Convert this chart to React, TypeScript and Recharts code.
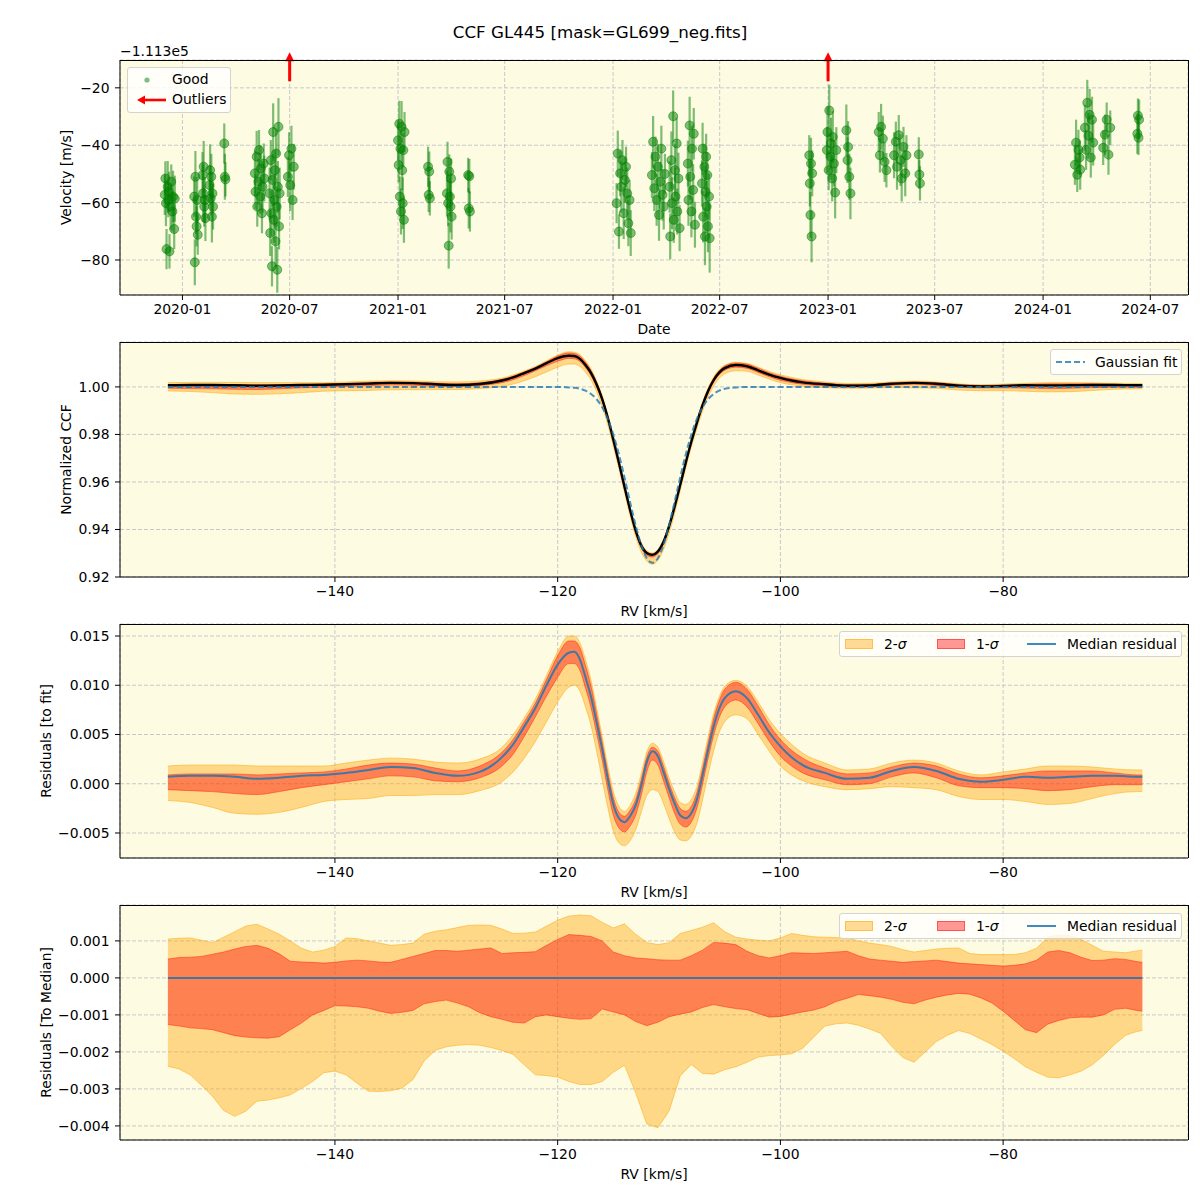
import React from 'react';
import { ComposedChart, Scatter, ErrorBar, Area, Line, XAxis, YAxis, CartesianGrid } from 'recharts';

const FONT = '"DejaVu Sans", Verdana, sans-serif';
const BG = '#fdfbe2';
const GRID = '#c9c9c9';
const FS = 13.9;
const TICK = { fill: '#000', fontSize: FS, fontFamily: FONT };
const LABEL = { fill: '#000', fontSize: FS, fontFamily: FONT, textAnchor: 'middle' as const };

// ---- panel 1: velocity (offset -1.113e5 m/s) ----
const obsDates = [
  '2019-12-02', '2019-12-03', '2019-12-04', '2019-12-05', '2019-12-07', '2019-12-08', '2019-12-09', '2019-12-10', '2019-12-12', '2019-12-13', '2019-12-15', '2019-12-16', '2019-12-18', '2019-12-19',
  '2020-01-21', '2020-01-22', '2020-01-23', '2020-01-24', '2020-01-25', '2020-01-26', '2020-01-27', '2020-02-04', '2020-02-05', '2020-02-06', '2020-02-07', '2020-02-08', '2020-02-09',
  '2020-02-16', '2020-02-17', '2020-02-18', '2020-02-19', '2020-02-20', '2020-02-21', '2020-02-22', '2020-03-12', '2020-03-13', '2020-03-14',
  '2020-05-03', '2020-05-04', '2020-05-06', '2020-05-07', '2020-05-09', '2020-05-10', '2020-05-12', '2020-05-13', '2020-05-15', '2020-05-16', '2020-05-18', '2020-05-19',
  '2020-05-28', '2020-05-29', '2020-05-30', '2020-05-31', '2020-06-01', '2020-06-02', '2020-06-03', '2020-06-04', '2020-06-05', '2020-06-06', '2020-06-07', '2020-06-08', '2020-06-09', '2020-06-10', '2020-06-11', '2020-06-12', '2020-06-13', '2020-06-14',
  '2020-06-28', '2020-06-30', '2020-07-02', '2020-07-04', '2020-07-06', '2020-07-08',
  '2021-01-01', '2021-01-02', '2021-01-03', '2021-01-04', '2021-01-05', '2021-01-06', '2021-01-07', '2021-01-08', '2021-01-09', '2021-01-10', '2021-01-11', '2021-01-12',
  '2021-02-21', '2021-02-22', '2021-02-23', '2021-02-24',
  '2021-03-25', '2021-03-26', '2021-03-27', '2021-03-28', '2021-03-29', '2021-03-30', '2021-03-31', '2021-04-01', '2021-04-02',
  '2021-04-30', '2021-05-01', '2021-05-02', '2021-05-03',
  '2022-01-07', '2022-01-09', '2022-01-11', '2022-01-13', '2022-01-15', '2022-01-17', '2022-01-19', '2022-01-21', '2022-01-23', '2022-01-25', '2022-01-27', '2022-01-29', '2022-01-31',
  '2022-03-08', '2022-03-10', '2022-03-12', '2022-03-14', '2022-03-16', '2022-03-18', '2022-03-20', '2022-03-22', '2022-03-24', '2022-03-26', '2022-03-28', '2022-03-30',
  '2022-04-07', '2022-04-08', '2022-04-10', '2022-04-11', '2022-04-13', '2022-04-14', '2022-04-16', '2022-04-17', '2022-04-19', '2022-04-20', '2022-04-22', '2022-04-24',
  '2022-05-08', '2022-05-09', '2022-05-11', '2022-05-12', '2022-05-14', '2022-05-15', '2022-05-17', '2022-05-18', '2022-05-20',
  '2022-06-01', '2022-06-02', '2022-06-03', '2022-06-05', '2022-06-06', '2022-06-07', '2022-06-08', '2022-06-09', '2022-06-10', '2022-06-11', '2022-06-13', '2022-06-14',
  '2022-11-30', '2022-12-01', '2022-12-02', '2022-12-03', '2022-12-04', '2022-12-05',
  '2022-12-30', '2022-12-31', '2023-01-02', '2023-01-03', '2023-01-05', '2023-01-06', '2023-01-08', '2023-01-09', '2023-01-11', '2023-01-13', '2023-01-15',
  '2023-02-01', '2023-02-03', '2023-02-04', '2023-02-06', '2023-02-08',
  '2023-03-28', '2023-03-30', '2023-04-01', '2023-04-04', '2023-04-07', '2023-04-10',
  '2023-04-23', '2023-04-26', '2023-04-28', '2023-05-01', '2023-05-04', '2023-05-06', '2023-05-09', '2023-05-12', '2023-05-14',
  '2023-06-04', '2023-06-05', '2023-06-06',
  '2024-02-24', '2024-02-26', '2024-02-28', '2024-03-01', '2024-03-03', '2024-03-04',
  '2024-03-12', '2024-03-14', '2024-03-16', '2024-03-18', '2024-03-20', '2024-03-22', '2024-03-24', '2024-03-26',
  '2024-04-12', '2024-04-15', '2024-04-18', '2024-04-21', '2024-04-24',
  '2024-06-09', '2024-06-10', '2024-06-11', '2024-06-12',
];
const obsVel = [
  -57.3, -51.6, -60.2, -76.2, -54.5, -59.1, -56.2, -77.0, -61.4, -52.7, -63.1, -57.9, -69.2, -58.6,
  -57.9, -80.8, -51.0, -64.9, -68.3, -59.1, -71.2, -50.4, -56.8, -47.5, -61.4, -59.1, -65.4,
  -53.9, -48.7, -58.5, -51.0, -64.9, -56.8, -61.4, -39.4, -51.0, -51.9,
  -49.8, -56.2, -44.0, -61.4, -52.7, -41.7, -57.9, -48.1, -63.7, -54.5, -46.4, -51.6,
  -56.8, -70.6, -45.2, -63.7, -82.2, -52.1, -35.4, -66.0, -59.1, -48.7, -73.5, -42.9, -61.4, -83.4, -54.5, -33.6, -68.3, -56.8,
  -51.0, -43.5, -53.9, -41.2, -59.1, -47.5,
  -38.3, -46.9, -32.5, -57.9, -41.2, -63.1, -33.6, -48.7, -60.2, -41.7, -66.0, -35.4,
  -47.5, -57.3, -49.2, -58.5,
  -56.8, -45.8, -60.2, -75.0, -49.2, -57.9, -61.4, -51.6, -64.9,
  -50.4, -62.0, -50.8, -63.1,
  -60.2, -42.9, -70.1, -49.8, -54.5, -45.2, -63.7, -52.1, -47.5, -56.8, -67.2, -59.1, -70.6,
  -50.4, -38.8, -55.0, -44.0, -59.1, -47.5, -64.3, -52.7, -41.2, -57.3, -61.4, -50.0,
  -54.5, -71.8, -45.2, -60.2, -29.9, -66.0, -48.7, -57.9, -39.4, -63.1, -51.6, -68.9,
  -46.4, -59.1, -33.1, -51.0, -63.1, -41.2, -55.6, -36.0, -67.7,
  -53.3, -41.2, -64.9, -47.5, -71.8, -56.2, -44.0, -61.4, -50.4, -68.3, -57.9, -72.4,
  -43.5, -53.3, -64.3, -46.4, -71.8, -49.8,
  -41.7, -35.4, -48.7, -27.9, -44.0, -39.4, -51.6, -37.1, -46.4, -56.5, -41.7,
  -34.8, -45.2, -40.6, -51.0, -56.8,
  -35.4, -43.5, -33.6, -37.7, -45.8, -48.7,
  -43.5, -38.8, -47.5, -36.5, -45.2, -51.6, -40.6, -49.8, -43.5,
  -43.2, -50.2, -53.3,
  -46.8, -39.1, -50.3, -41.6, -44.3, -48.5,
  -33.9, -41.6, -25.2, -36.7, -29.4, -44.3, -31.1, -39.1,
  -40.9, -36.3, -31.1, -43.3, -33.9,
  -36.0, -29.7, -37.4, -31.1,
];
const obsErr = [
  7, 6, 8, 7, 9, 6, 7, 6, 8, 6, 7, 9, 7, 8,
  7, 8, 9, 6, 7, 8, 7, 8, 10, 9, 7, 8, 8,
  7, 9, 6, 8, 9, 7, 8, 7, 8, 6,
  8, 6, 9, 7, 8, 7, 6, 8, 7, 9, 7, 8,
  9, 8, 7, 8, 7, 9, 10, 8, 9, 7, 9, 8, 7, 8, 9, 10, 8, 9,
  7, 8, 9, 8, 7, 8,
  7, 6, 8, 7, 6, 8, 9, 7, 9, 6, 8, 7,
  7, 6, 7, 6,
  8, 7, 8, 8, 6, 7, 9, 7, 8,
  6, 7, 6, 7,
  7, 8, 6, 8, 9, 7, 9, 8, 7, 9, 8, 7, 8,
  8, 9, 8, 7, 9, 8, 9, 7, 8, 9, 8, 7,
  9, 8, 10, 9, 9, 8, 9, 10, 9, 8, 9, 8,
  8, 9, 10, 8, 9, 8, 9, 9, 8,
  8, 9, 9, 8, 10, 9, 8, 9, 8, 9, 8, 12,
  7, 8, 8, 9, 9, 8,
  8, 9, 7, 9, 8, 9, 8, 9, 8, 9, 8,
  9, 8, 9, 8, 9,
  7, 6, 8, 8, 7, 6,
  8, 7, 8, 7, 9, 8, 7, 8, 7,
  6, 5, 6,
  7, 8, 6, 7, 6, 7,
  8, 7, 8, 8, 9, 7, 8, 8,
  6, 7, 6, 7, 6,
  7, 6, 6, 7,
];
const outlierDates = ['2020-07-01', '2023-01-01'];
const outlierVel = [-17.7, -17.7];
const dateTicks = ['2020-01-01', '2020-07-01', '2021-01-01', '2021-07-01', '2022-01-01', '2022-07-01', '2023-01-01', '2023-07-01', '2024-01-01', '2024-07-01'];
const dateRange = ['2019-09-17', '2024-09-03'];
const velTicks = [-80, -60, -40, -20];

// ---- panels 2 & 3: CCF / residuals to fit ----
const rvFit = [
  -155, -153, -151, -149, -147, -145, -143, -141, -139, -137, -135, -133, -131, -129, -127, -125,
  -124, -123, -122, -121, -120, -119,
  -118.5, -118, -117.5, -117, -116.5, -116, -115.5, -115, -114.5, -114, -113.5, -113, -112.5, -112, -111.5, -111, -110.5, -110, -109.5, -109, -108.5, -108, -107.5, -107, -106.5, -106, -105.5, -105,
  -104, -103, -102, -101, -100, -99, -98,
  -96, -94, -92, -90, -88, -86, -84, -82, -80, -78, -76, -74, -72, -70, -68,
  -67.5,
];
const fitGauss = [
  1, 1, 1, 1, 1, 1, 1, 1, 1, 1, 1, 1, 1, 1, 1, 1,
  1, 1, 1, 1, 1, 0.9998,
  0.9996, 0.9992, 0.9984, 0.997, 0.9948, 0.9914, 0.9865, 0.9799, 0.9716, 0.9619, 0.9516, 0.9418, 0.9335, 0.9279, 0.926, 0.9279, 0.9335, 0.9418, 0.9516, 0.9619, 0.9716, 0.9799, 0.9865, 0.9914, 0.9948, 0.997, 0.9984, 0.9992,
  0.9998, 1, 1, 1, 1, 1, 1,
  1, 1, 1, 1, 1, 1, 1, 1, 1, 1, 1, 1, 1, 1, 1,
  1,
];
const residMed = [
  0.0007, 0.0008, 0.0008, 0.0007, 0.0005, 0.0006, 0.0008, 0.0009, 0.0011, 0.0014, 0.0017, 0.0016, 0.0011, 0.0008, 0.0012, 0.0027,
  0.004, 0.0058, 0.0077, 0.01, 0.0121, 0.0133,
  0.0134, 0.0126, 0.0108, 0.0088, 0.0062, 0.0035, 0.0005, -0.0021, -0.0035, -0.0039, -0.0033, -0.0022, -0.0002, 0.0022, 0.0033, 0.0028, 0.0012, -0.0005, -0.002, -0.0032, -0.0035, -0.003, -0.0016, 0.0008, 0.0034, 0.0058, 0.0076, 0.0087,
  0.0094, 0.0087, 0.007, 0.0052, 0.0038, 0.0027, 0.0019,
  0.0011, 0.0005, 0.0006, 0.0013, 0.0017, 0.0013, 0.0005, 0.0002, 0.0004, 0.0007, 0.0006, 0.0007, 0.0008, 0.0008, 0.0007,
  0.0007,
];
const resid1Hi = [
  0.0009, 0.001, 0.001, 0.001, 0.0009, 0.001, 0.0011, 0.0012, 0.0015, 0.0019, 0.0021, 0.002, 0.0016, 0.0013, 0.0018, 0.0032,
  0.0045, 0.0063, 0.0082, 0.0106, 0.013, 0.0145,
  0.0145, 0.0138, 0.012, 0.0099, 0.0071, 0.0042, 0.0012, -0.0014, -0.0029, -0.0033, -0.0027, -0.0016, 0.0004, 0.0027, 0.0037, 0.0033, 0.0018, 0.0001, -0.0014, -0.0025, -0.0028, -0.0023, -0.0009, 0.0015, 0.0041, 0.0066, 0.0084, 0.0096,
  0.0103, 0.0096, 0.0079, 0.006, 0.0045, 0.0034, 0.0026,
  0.0016, 0.001, 0.0011, 0.0017, 0.0021, 0.0018, 0.001, 0.0006, 0.0008, 0.0011, 0.0013, 0.0013, 0.0013, 0.0011, 0.0009,
  0.0009,
];
const resid1Lo = [
  -0.0006, -0.0007, -0.0008, -0.001, -0.0011, -0.0008, -0.0004, -0.0001, 0.0002, 0.0005, 0.0008, 0.0007, 0.0003, 0.0002, 0.0006, 0.0018,
  0.003, 0.0048, 0.0068, 0.0089, 0.0108, 0.0122,
  0.0122, 0.0115, 0.0097, 0.0077, 0.0051, 0.0024, -0.0006, -0.0032, -0.0045, -0.0049, -0.0043, -0.0032, -0.0012, 0.0012, 0.0024, 0.0019, 0.0003, -0.0014, -0.003, -0.0041, -0.0044, -0.0039, -0.0025, -0.0001, 0.0025, 0.0049, 0.0067, 0.0078,
  0.0085, 0.0078, 0.0061, 0.0043, 0.0028, 0.0018, 0.0011,
  0.0004, -0.0001, 0, 0.0007, 0.0011, 0.0006, -0.0002, -0.0004, -0.0004, -0.0005, -0.0007, -0.0006, -0.0003, -0.0001, -0.0001,
  -0.0001,
];
const resid2Hi = [
  0.0018, 0.0019, 0.0019, 0.0019, 0.0018, 0.0018, 0.0018, 0.0018, 0.0021, 0.0024, 0.0026, 0.0025, 0.0022, 0.0021, 0.0025, 0.0037,
  0.005, 0.0067, 0.0086, 0.011, 0.0134, 0.015,
  0.015, 0.0143, 0.0126, 0.0105, 0.0077, 0.0048, 0.0018, -0.0008, -0.0023, -0.0028, -0.0022, -0.001, 0.001, 0.0032, 0.0041, 0.0037, 0.0023, 0.0006, -0.0008, -0.0019, -0.0021, -0.0016, -0.0003, 0.0021, 0.0047, 0.0071, 0.0088, 0.0099,
  0.0105, 0.0099, 0.0083, 0.0065, 0.0051, 0.004, 0.0031,
  0.0021, 0.0014, 0.0015, 0.0021, 0.0024, 0.0021, 0.0013, 0.0009, 0.0012, 0.0015, 0.0018, 0.0018, 0.0017, 0.0015, 0.0014,
  0.0014,
];
const resid2Lo = [
  -0.0017, -0.0019, -0.0024, -0.003, -0.0031, -0.0029, -0.0024, -0.0018, -0.0016, -0.0015, -0.0012, -0.0012, -0.0011, -0.0011, -0.0007, 0.0002,
  0.0012, 0.0026, 0.0043, 0.0063, 0.0083, 0.0098,
  0.01, 0.0094, 0.0078, 0.0059, 0.0033, 0.0004, -0.0024, -0.0048, -0.006, -0.0063, -0.0058, -0.0047, -0.0029, -0.0012, -0.0006, -0.0008, -0.002, -0.0035, -0.0049, -0.0057, -0.0058, -0.0053, -0.004, -0.0017, 0.0009, 0.0033, 0.0052, 0.0063,
  0.007, 0.0066, 0.005, 0.0033, 0.0018, 0.0009, 0.0003,
  -0.0003, -0.0006, -0.0005, -0.0003, -0.0004, -0.0006, -0.0013, -0.0016, -0.0016, -0.0018, -0.0021, -0.002, -0.0015, -0.001, -0.0008,
  -0.0008,
];

// ---- panel 4: residuals to median ----
const rvMed = [
  -155, -154, -153, -152, -151, -150, -149, -148, -147, -146, -145, -144, -143, -142, -141, -140, -139, -138, -137, -136,
  -135, -134, -133, -132, -131, -130, -129, -128, -127, -126, -125, -124, -123, -122, -121, -120, -119, -118, -117, -116,
  -115, -114, -113, -112, -111, -110, -109, -108, -107, -106, -105, -104, -103, -102, -101, -100, -99, -98, -97, -96,
  -95, -94, -93, -92, -91, -90, -89, -88, -87, -86, -85, -84, -83, -82, -81, -80, -79, -78, -77, -76,
  -75, -74, -73, -72, -71, -70, -69, -68, -67.5,
];
const med2Hi = [
  0.00105, 0.00107, 0.00108, 0.00102, 0.00095, 0.0011, 0.00125, 0.0014, 0.00145, 0.00132, 0.00118, 0.001, 0.0008, 0.0007, 0.00075, 0.00085, 0.00108, 0.00106, 0.001, 0.00094,
  0.00088, 0.0009, 0.00094, 0.00118, 0.00126, 0.0013, 0.00136, 0.00142, 0.00143, 0.00142, 0.00132, 0.0012, 0.00121, 0.00124, 0.0014, 0.00156, 0.00167, 0.0017, 0.00168, 0.0015,
  0.00135, 0.00146, 0.00118, 0.00096, 0.0009, 0.00095, 0.0012, 0.00128, 0.00137, 0.00149, 0.00125, 0.0011, 0.00105, 0.00102, 0.001, 0.00108, 0.0012, 0.00115, 0.00111, 0.0011,
  0.00109, 0.00108, 0.001, 0.00094, 0.0009, 0.00085, 0.00076, 0.0007, 0.00074, 0.00078, 0.0008, 0.00081, 0.00066, 0.00063, 0.00063, 0.00063, 0.00063, 0.00068, 0.0008, 0.0011,
  0.00116, 0.00114, 0.00104, 0.00088, 0.00072, 0.0007, 0.00068, 0.00073, 0.00075,
];
const med1Hi = [
  0.00051, 0.00055, 0.00056, 0.00058, 0.00064, 0.0007, 0.00078, 0.00085, 0.00088, 0.0008, 0.00065, 0.00045, 0.00043, 0.00042, 0.0004, 0.00042, 0.00046, 0.00048, 0.00046, 0.00043,
  0.00042, 0.0005, 0.00058, 0.00066, 0.00074, 0.00074, 0.00072, 0.00075, 0.00078, 0.00081, 0.00066, 0.00068, 0.00069, 0.00071, 0.00088, 0.00104, 0.00117, 0.00115, 0.00112, 0.001,
  0.0007, 0.0006, 0.00054, 0.00052, 0.00049, 0.00048, 0.00048, 0.0006, 0.00075, 0.00096, 0.00094, 0.0009, 0.00072, 0.0006, 0.00054, 0.0006, 0.00068, 0.00067, 0.00066, 0.00068,
  0.0007, 0.00072, 0.0006, 0.00051, 0.00048, 0.00045, 0.00042, 0.00044, 0.00046, 0.00048, 0.00044, 0.0004, 0.00038, 0.00036, 0.00034, 0.00032, 0.00034, 0.00038, 0.00048, 0.0007,
  0.00074, 0.00068, 0.00056, 0.00047, 0.00048, 0.00052, 0.0005, 0.00044, 0.00042,
];
const med1Lo = [
  -0.00126, -0.0013, -0.00135, -0.00137, -0.0014, -0.00148, -0.00156, -0.0016, -0.00162, -0.00163, -0.00159, -0.0014, -0.00122, -0.001, -0.00088, -0.00075, -0.00076, -0.00078, -0.00082, -0.0009,
  -0.00096, -0.00093, -0.00088, -0.0007, -0.00064, -0.0006, -0.00068, -0.00078, -0.00094, -0.00105, -0.00112, -0.0012, -0.00122, -0.00105, -0.001, -0.00105, -0.00109, -0.00112, -0.0011, -0.00084,
  -0.00092, -0.001, -0.00118, -0.00129, -0.0012, -0.00105, -0.00098, -0.00092, -0.0008, -0.00072, -0.00078, -0.00083, -0.00086, -0.00096, -0.00106, -0.00104, -0.00098, -0.00092, -0.00087, -0.00078,
  -0.00064, -0.00055, -0.00045, -0.00048, -0.00052, -0.00058, -0.00066, -0.0007, -0.0006, -0.00052, -0.00046, -0.00042, -0.00044, -0.00054, -0.00068, -0.0009, -0.00115, -0.0014, -0.00148, -0.00125,
  -0.00115, -0.00108, -0.00106, -0.00106, -0.001, -0.00085, -0.00082, -0.00088, -0.0009,
];
const med2Lo = [
  -0.00239, -0.00246, -0.00262, -0.0029, -0.0032, -0.00358, -0.00374, -0.0036, -0.00333, -0.0033, -0.00324, -0.00316, -0.00298, -0.0028, -0.00256, -0.00252, -0.00262, -0.00285, -0.00306, -0.00307,
  -0.00305, -0.00298, -0.00275, -0.00225, -0.00196, -0.00186, -0.00182, -0.0018, -0.00182, -0.00188, -0.00196, -0.00207, -0.00235, -0.00262, -0.00264, -0.00268, -0.0028, -0.00288, -0.00288, -0.0028,
  -0.00255, -0.00236, -0.0031, -0.00395, -0.00405, -0.0036, -0.00265, -0.00234, -0.00258, -0.0026, -0.00248, -0.0024, -0.00228, -0.00214, -0.0021, -0.00208, -0.00205, -0.0019, -0.0016, -0.0013,
  -0.00124, -0.00122, -0.00128, -0.00138, -0.0015, -0.00185, -0.00215, -0.00228, -0.002, -0.00172, -0.00155, -0.00142, -0.0015, -0.00165, -0.0018, -0.00198, -0.00218, -0.0024, -0.00255, -0.00268,
  -0.0027, -0.00262, -0.00252, -0.00235, -0.0021, -0.0018, -0.00155, -0.00145, -0.00142,
];

const rvTicks = [-140, -120, -100, -80];
const ccfTicks = [0.92, 0.94, 0.96, 0.98, 1.0];
const fitResTicks = [-0.005, 0, 0.005, 0.01, 0.015];
const medResTicks = [-0.004, -0.003, -0.002, -0.001, 0, 0.001];

// tables for the library
const obsRows = obsDates.map((d, i) => ({ t: Date.parse(d), v: obsVel[i], err: obsErr[i] }));
const outlierRows = outlierDates.map((d, i) => ({ t: Date.parse(d), v: outlierVel[i] }));
const fitRows = rvFit.map((rv, i) => ({
  rv,
  fit: fitGauss[i],
  ccf: fitGauss[i] + residMed[i],
  ccf1: [fitGauss[i] + resid1Lo[i], fitGauss[i] + resid1Hi[i]],
  ccf2: [fitGauss[i] + resid2Lo[i], fitGauss[i] + resid2Hi[i]],
  med: residMed[i],
  r1: [resid1Lo[i], resid1Hi[i]],
  r2: [resid2Lo[i], resid2Hi[i]],
}));
const medRows = rvMed.map((rv, i) => ({ rv, r1: [med1Lo[i], med1Hi[i]], r2: [med2Lo[i], med2Hi[i]] }));
const medLine = [{ rv: rvMed[0], m: 0 }, { rv: rvMed[rvMed.length - 1], m: 0 }];

const fmtNum = (digits: number) => (v: number) => (v < 0 ? '\u2212' : '') + Math.abs(v).toFixed(digits);
const fmtMonth = (t: number) => new Date(t).toISOString().slice(0, 7);

const dateDomain = [Date.parse(dateRange[0]), Date.parse(dateRange[1])];
const rvDomain = [-159.3, -63.4];

const ORANGE = '#FFA500';
const RED = '#FF0000';
const BLUE = '#1f77b4';

const GoodDot = (p: any) => (
  <circle cx={p.cx} cy={p.cy} r={4.5} fill="#008000" fillOpacity={0.5} stroke="#008000" strokeOpacity={0.5} strokeWidth={1} />
);
const UpArrow = (p: any) => (
  <g>
    <line x1={p.cx} y1={p.cy} x2={p.cx} y2={p.cy - 21} stroke={RED} strokeWidth={3} />
    <polygon points={`${p.cx - 4.5},${p.cy - 20} ${p.cx + 4.5},${p.cy - 20} ${p.cx},${p.cy - 29}`} fill={RED} />
  </g>
);

const legendBox = (left: number, top: number, width: number, height: number): React.CSSProperties => ({
  position: 'absolute', left, top, width, height, boxSizing: 'border-box',
  border: '1px solid #d3d3d3', borderRadius: 3, background: 'rgba(255,255,255,0.8)',
  fontFamily: FONT, fontSize: FS, color: '#000',
});
const at = (left: number, top: number): React.CSSProperties => ({ position: 'absolute', left, top, lineHeight: '16px', whiteSpace: 'nowrap' });

// top and right spines of a plot area
const Spines = ({ top, bottom }: { top: number; bottom: number }) => (
  <>
    <div style={{ position: 'absolute', left: 120, top, width: 1069, height: 1, background: '#000', pointerEvents: 'none' }} />
    <div style={{ position: 'absolute', left: 1188, top, width: 1, height: bottom - top, background: '#000', pointerEvents: 'none' }} />
  </>
);

const SigmaLegend = ({ top }: { top: number }) => (
  <div style={legendBox(839, top, 343, 26)}>
    <div style={{ position: 'absolute', left: 5, top: 7, width: 28, height: 10, boxSizing: 'border-box', background: 'rgba(255,165,0,0.4)', border: '1px solid rgba(255,165,0,0.5)' }} />
    <span style={at(44, 4)}>2-<i>σ</i></span>
    <div style={{ position: 'absolute', left: 97, top: 7, width: 28, height: 10, boxSizing: 'border-box', background: 'rgba(255,0,0,0.4)', border: '1px solid rgba(255,0,0,0.45)' }} />
    <span style={at(136, 4)}>1-<i>σ</i></span>
    <div style={{ position: 'absolute', left: 187, top: 11, width: 29, height: 2, background: BLUE, opacity: 0.85 }} />
    <span style={at(227, 4)}>Median residual</span>
  </div>
);

export default function App() {
  return (
    <div style={{ position: 'absolute', left: 0, top: 0, width: 1200, height: 1200, background: '#fff', fontFamily: FONT }}>
      <div style={{ position: 'absolute', left: 0, width: 1200, top: 22, textAlign: 'center', fontSize: 16.7, lineHeight: '20px' }}>
        CCF GL445 [mask=GL699_neg.fits]
      </div>
      <div style={{ position: 'absolute', left: 120, top: 43, fontSize: FS, lineHeight: '16px' }}>{'\u2212'}1.113e5</div>

      {/* panel 1 */}
      <div style={{ position: 'absolute', left: 0, top: 0 }}>
        <ComposedChart width={1200} height={340} margin={{ top: 60, right: 12, bottom: 0, left: 0 }} data={obsRows}>
          <CartesianGrid stroke={GRID} strokeDasharray="4 2" fill={BG} fillOpacity={1} />
          <XAxis dataKey="t" type="number" domain={dateDomain} ticks={dateTicks.map((d) => Date.parse(d))} tickFormatter={fmtMonth}
            height={45} stroke="#000" tick={TICK} tickSize={5} tickMargin={4}
            label={{ value: 'Date', position: 'insideBottom', offset: 6, style: LABEL }} />
          <YAxis dataKey="v" type="number" domain={[-92.2, -10.3]} ticks={velTicks} tickFormatter={fmtNum(0)} width={120}
            stroke="#000" tick={TICK} tickSize={5} tickMargin={5.5}
            label={{ value: 'Velocity [m/s]', angle: -90, position: 'insideLeft', offset: 66, style: LABEL }} />
          <Scatter data={obsRows} dataKey="v" shape={GoodDot} isAnimationActive={false}>
            <ErrorBar dataKey="err" direction="y" width={0} stroke="rgba(0,128,0,0.5)" strokeWidth={2.2} />
          </Scatter>
          <Scatter data={outlierRows} dataKey="v" shape={UpArrow} isAnimationActive={false} />
        </ComposedChart>
      </div>
      <Spines top={60} bottom={295} />
      <div style={legendBox(127, 67, 104, 46)}>
        <svg width={40} height={44} style={{ position: 'absolute', left: 0, top: 0 }}>
          <circle cx={19} cy={12} r={2.6} fill="#008000" fillOpacity={0.5} />
          <line x1={38} y1={32} x2={16} y2={32} stroke={RED} strokeWidth={2.6} />
          <polygon points="9,32 17,27.5 17,36.5" fill={RED} />
        </svg>
        <span style={at(44, 3)}>Good</span>
        <span style={at(44, 23)}>Outliers</span>
      </div>

      {/* panel 2 */}
      <div style={{ position: 'absolute', left: 0, top: 300 }}>
        <ComposedChart width={1200} height={320} margin={{ top: 42, right: 12, bottom: 0, left: 0 }} data={fitRows}>
          <CartesianGrid stroke={GRID} strokeDasharray="4 2" fill={BG} fillOpacity={1} />
          <XAxis dataKey="rv" type="number" domain={rvDomain} ticks={rvTicks} tickFormatter={fmtNum(0)}
            height={43} stroke="#000" tick={TICK} tickSize={5} tickMargin={4}
            label={{ value: 'RV [km/s]', position: 'insideBottom', offset: 4, style: LABEL }} />
          <YAxis type="number" domain={[0.92, 1.0189]} ticks={ccfTicks} tickFormatter={fmtNum(2)} width={120}
            stroke="#000" tick={TICK} tickSize={5} tickMargin={5.5}
            label={{ value: 'Normalized CCF', angle: -90, position: 'insideLeft', offset: 66, style: LABEL }} />
          <Area dataKey="ccf2" type="monotone" fill={ORANGE} fillOpacity={0.4} stroke={ORANGE} strokeOpacity={0.5} strokeWidth={1} isAnimationActive={false} />
          <Area dataKey="ccf1" type="monotone" fill={RED} fillOpacity={0.4} stroke={RED} strokeOpacity={0.4} strokeWidth={1} isAnimationActive={false} />
          <Line dataKey="ccf" type="monotone" stroke="#000" strokeWidth={2.4} dot={false} activeDot={false} isAnimationActive={false} />
          <Line dataKey="fit" type="monotone" stroke={BLUE} strokeOpacity={0.8} strokeWidth={2} strokeDasharray="6 3" dot={false} activeDot={false} isAnimationActive={false} />
        </ComposedChart>
      </div>
      <Spines top={342} bottom={577} />
      <div style={legendBox(1050, 349, 132, 26)}>
        <svg width={40} height={24} style={{ position: 'absolute', left: 0, top: 0 }}>
          <line x1={5} y1={12} x2={34} y2={12} stroke={BLUE} strokeOpacity={0.8} strokeWidth={2} strokeDasharray="6 3" />
        </svg>
        <span style={at(44, 4)}>Gaussian fit</span>
      </div>

      {/* panel 3 */}
      <div style={{ position: 'absolute', left: 0, top: 620 }}>
        <ComposedChart width={1200} height={280} margin={{ top: 4, right: 12, bottom: 0, left: 0 }} data={fitRows}>
          <CartesianGrid stroke={GRID} strokeDasharray="4 2" fill={BG} fillOpacity={1} />
          <XAxis dataKey="rv" type="number" domain={rvDomain} ticks={rvTicks} tickFormatter={fmtNum(0)}
            height={42} stroke="#000" tick={TICK} tickSize={5} tickMargin={4}
            label={{ value: 'RV [km/s]', position: 'insideBottom', offset: 3, style: LABEL }} />
          <YAxis type="number" domain={[-0.00754, 0.01622]} ticks={fitResTicks} tickFormatter={fmtNum(3)} width={120}
            stroke="#000" tick={TICK} tickSize={5} tickMargin={5.5}
            label={{ value: 'Residuals [to fit]', angle: -90, position: 'insideLeft', offset: 46, style: LABEL }} />
          <Area dataKey="r2" type="monotone" fill={ORANGE} fillOpacity={0.4} stroke={ORANGE} strokeOpacity={0.5} strokeWidth={1} isAnimationActive={false} />
          <Area dataKey="r1" type="monotone" fill={RED} fillOpacity={0.4} stroke={RED} strokeOpacity={0.4} strokeWidth={1} isAnimationActive={false} />
          <Line dataKey="med" type="monotone" stroke={BLUE} strokeOpacity={0.85} strokeWidth={2} dot={false} activeDot={false} isAnimationActive={false} />
        </ComposedChart>
      </div>
      <Spines top={624} bottom={858} />
      <SigmaLegend top={631} />

      {/* panel 4 */}
      <div style={{ position: 'absolute', left: 0, top: 900 }}>
        <ComposedChart width={1200} height={300} margin={{ top: 5, right: 12, bottom: 15, left: 0 }} data={medRows}>
          <CartesianGrid stroke={GRID} strokeDasharray="4 2" fill={BG} fillOpacity={1} />
          <XAxis dataKey="rv" type="number" domain={rvDomain} ticks={rvTicks} tickFormatter={fmtNum(0)}
            height={45} stroke="#000" tick={TICK} tickSize={5} tickMargin={4}
            label={{ value: 'RV [km/s]', position: 'insideBottom', offset: 6, style: LABEL }} />
          <YAxis type="number" domain={[-0.00438, 0.00197]} ticks={medResTicks} tickFormatter={fmtNum(3)} width={120}
            stroke="#000" tick={TICK} tickSize={5} tickMargin={5.5}
            label={{ value: 'Residuals [To Median]', angle: -90, position: 'insideLeft', offset: 46, style: LABEL }} />
          <Area dataKey="r2" type="linear" fill={ORANGE} fillOpacity={0.4} stroke={ORANGE} strokeOpacity={0.5} strokeWidth={1} isAnimationActive={false} />
          <Area dataKey="r1" type="linear" fill={RED} fillOpacity={0.4} stroke={RED} strokeOpacity={0.4} strokeWidth={1} isAnimationActive={false} />
          <Line data={medLine} dataKey="m" type="linear" stroke={BLUE} strokeOpacity={0.85} strokeWidth={2} dot={false} activeDot={false} isAnimationActive={false} />
        </ComposedChart>
      </div>
      <Spines top={905} bottom={1140} />
      <SigmaLegend top={913} />
    </div>
  );
}
